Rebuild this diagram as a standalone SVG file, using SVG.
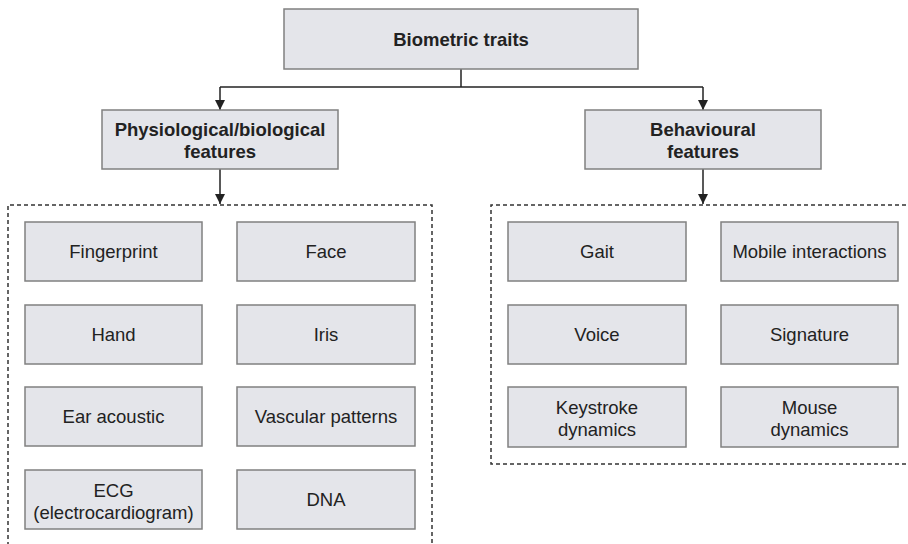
<svg xmlns="http://www.w3.org/2000/svg" width="908" height="544" viewBox="0 0 908 544">
<style>
.box{fill:#e4e5ea;stroke:#808080;stroke-width:1.5}
.t{font-family:"Liberation Sans",Arial,sans-serif;font-size:18.5px;fill:#222;text-anchor:middle}
.b{font-weight:bold}
.ln{fill:none;stroke:#222;stroke-width:1.5}
.dash{fill:none;stroke:#333;stroke-width:1.5;stroke-dasharray:4 3}
</style>
<defs>
<marker id="ah" viewBox="0 0 10 10" refX="10" refY="5" markerWidth="10" markerHeight="10" markerUnits="userSpaceOnUse" orient="auto">
<path d="M0,0 L10,5 L0,10 Z" fill="#222"/>
</marker>
</defs>
<rect width="908" height="544" fill="#fff"/>
<g id="groups">
<path class="dash" d="M8,560 L8,205 L432,205 L432,560"/>
<path class="dash" d="M920,205 L491,205 L491,464 L920,464"/>
</g>
<g id="connectors">
<path class="ln" d="M461,69 L461,87"/>
<path class="ln" d="M220,87 L703,87"/>
<path class="ln" d="M220,87 L220,110" marker-end="url(#ah)"/>
<path class="ln" d="M703,87 L703,110" marker-end="url(#ah)"/>
<path class="ln" d="M220,169 L220,204" marker-end="url(#ah)"/>
<path class="ln" d="M703,169 L703,204" marker-end="url(#ah)"/>
</g>
<g id="root"><rect class="box" x="284" y="9" width="354" height="60"/><text class="t b" x="461" y="45.5">Biometric traits</text></g>
<g id="physio"><rect class="box" x="102" y="110" width="236" height="59"/><text class="t b" x="220" y="136">Physiological/biological</text><text class="t b" x="220" y="158">features</text></g>
<g id="behav"><rect class="box" x="585" y="110" width="236" height="59"/><text class="t b" x="703" y="136">Behavioural</text><text class="t b" x="703" y="158">features</text></g>
<g id="fingerprint"><rect class="box" x="25" y="222" width="177" height="59"/><text class="t" x="113.5" y="258">Fingerprint</text></g>
<g id="face"><rect class="box" x="237" y="222" width="178" height="59"/><text class="t" x="326" y="258">Face</text></g>
<g id="hand"><rect class="box" x="25" y="305" width="177" height="59"/><text class="t" x="113.5" y="341">Hand</text></g>
<g id="iris"><rect class="box" x="237" y="305" width="178" height="59"/><text class="t" x="326" y="341">Iris</text></g>
<g id="ear"><rect class="box" x="25" y="387" width="177" height="59"/><text class="t" x="113.5" y="423">Ear acoustic</text></g>
<g id="vascular"><rect class="box" x="237" y="387" width="178" height="59"/><text class="t" x="326" y="423">Vascular patterns</text></g>
<g id="ecg"><rect class="box" x="25" y="470" width="177" height="59"/><text class="t" x="113.5" y="496.5">ECG</text><text class="t" x="113.5" y="519">(electrocardiogram)</text></g>
<g id="dna"><rect class="box" x="237" y="470" width="178" height="59"/><text class="t" x="326" y="506">DNA</text></g>
<g id="gait"><rect class="box" x="508" y="222" width="178" height="59"/><text class="t" x="597" y="258">Gait</text></g>
<g id="mobile"><rect class="box" x="721" y="222" width="177" height="59"/><text class="t" x="809.5" y="258">Mobile interactions</text></g>
<g id="voice"><rect class="box" x="508" y="305" width="178" height="59"/><text class="t" x="597" y="341">Voice</text></g>
<g id="signature"><rect class="box" x="721" y="305" width="177" height="59"/><text class="t" x="809.5" y="341">Signature</text></g>
<g id="keystroke"><rect class="box" x="508" y="387" width="178" height="60"/><text class="t" x="597" y="413.5">Keystroke</text><text class="t" x="597" y="436">dynamics</text></g>
<g id="mouse"><rect class="box" x="721" y="387" width="177" height="60"/><text class="t" x="809.5" y="413.5">Mouse</text><text class="t" x="809.5" y="436">dynamics</text></g>
</svg>
